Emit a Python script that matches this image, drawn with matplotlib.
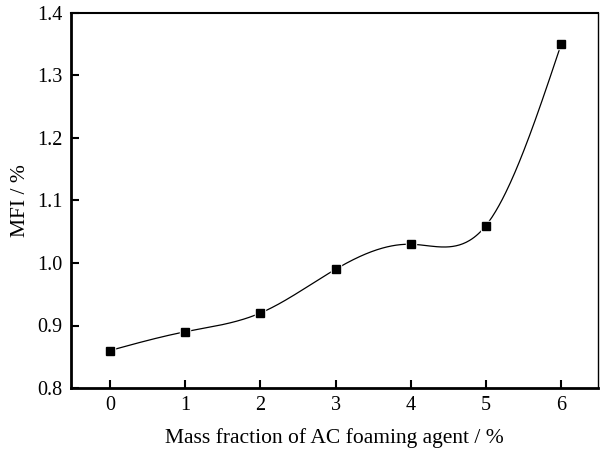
import numpy as np
import matplotlib
matplotlib.use("Agg")
import matplotlib.pyplot as plt

plt.rcParams['font.family'] = ['Liberation Serif', 'DejaVu Serif']

mass_fraction = [0, 1, 2, 3, 4, 5, 6]
mfi = [0.86, 0.89, 0.92, 0.99, 1.03, 1.06, 1.35]
y_ticks = [0.8, 0.9, 1.0, 1.1, 1.2, 1.3, 1.4]


def natural_spline(x, y, xs):
    # plain natural cubic spline, like the smoothed line in Origin
    x = np.asarray(x, float)
    y = np.asarray(y, float)
    n = len(x)
    h = np.diff(x)
    A = np.zeros((n, n))
    b = np.zeros(n)
    A[0, 0] = 1
    A[-1, -1] = 1
    for i in range(1, n - 1):
        A[i, i - 1] = h[i - 1]
        A[i, i] = 2 * (h[i - 1] + h[i])
        A[i, i + 1] = h[i]
        b[i] = 3 * ((y[i + 1] - y[i]) / h[i] - (y[i] - y[i - 1]) / h[i - 1])
    c = np.linalg.solve(A, b)
    out = np.zeros_like(xs)
    for j, xv in enumerate(xs):
        i = min(np.searchsorted(x, xv, side="right") - 1, n - 2)
        i = max(i, 0)
        dx = xv - x[i]
        bb = (y[i + 1] - y[i]) / h[i] - h[i] * (2 * c[i] + c[i + 1]) / 3
        d = (c[i + 1] - c[i]) / (3 * h[i])
        out[j] = y[i] + bb * dx + c[i] * dx ** 2 + d * dx ** 3
    return out


xs = np.linspace(mass_fraction[0], mass_fraction[-1], 400)
ys = natural_spline(mass_fraction, mfi, xs)

fig = plt.figure(figsize=(6, 4.49), dpi=100)
ax = fig.add_axes([71 / 600, 1 - 388 / 449, 527 / 600, 375 / 449])

ax.plot(xs, ys, color="black", lw=0.9)
ax.plot(mass_fraction, mfi, ls="none", marker="s", ms=7.5, color="white")
ax.plot(mass_fraction, mfi, ls="none", marker="s", ms=5.8, color="black")

ax.set_xlim(-0.52, 6.49)
ax.set_ylim(0.8, 1.4)
ax.set_xticks(mass_fraction)
ax.set_yticks(y_ticks)
ax.set_yticklabels(["%.1f" % v for v in y_ticks])
ax.tick_params(direction="in", length=6, width=1.5, labelsize=14.5, pad=6,
               top=False, right=False)

ax.spines["left"].set_linewidth(2)
ax.spines["bottom"].set_linewidth(2)
ax.spines["top"].set_linewidth(1.5)
ax.spines["right"].set_linewidth(1)

ax.set_xlabel("Mass fraction of AC foaming agent / %", fontsize=15.5, labelpad=9)
ax.set_ylabel("MFI / %", fontsize=15.5, labelpad=5)

fig.savefig("out.png", dpi=100)
